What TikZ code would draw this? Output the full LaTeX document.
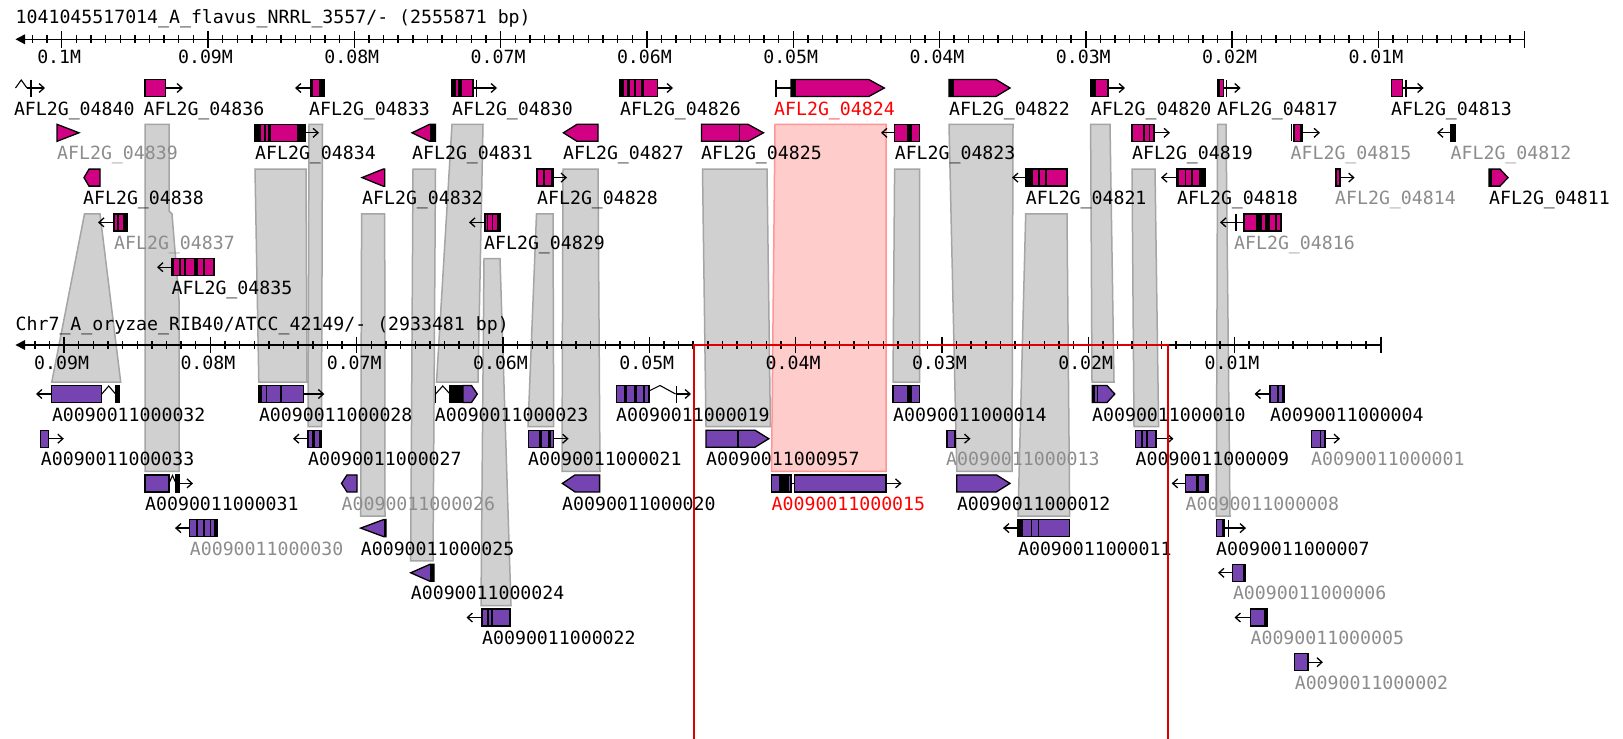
\documentclass[tikz,border=0pt]{standalone}
\usepackage{fontspec}
\setmonofont{DejaVu Sans Mono}
\usetikzlibrary{arrows.meta}
\definecolor{genemag}{RGB}{210,0,130}
\definecolor{genepur}{RGB}{118,68,176}
\definecolor{hspfill}{RGB}{208,208,208}
\definecolor{hspedge}{RGB}{165,165,165}
\definecolor{hlfill}{RGB}{255,204,204}
\definecolor{hledge}{RGB}{255,150,150}
\definecolor{selred}{RGB}{222,0,0}
\definecolor{dimtext}{RGB}{140,140,140}
\definecolor{redtext}{RGB}{255,0,0}

% gene glyph helpers (x in px, y grows downward)
\newcommand\gbox[4]{\filldraw[gline,fill=#1] (#2,{#4-8.5}) rectangle (#3,{#4+8.5});}
\newcommand\gstr[3]{\fill[black] (#1,{#3-8.5}) rectangle (#2,{#3+8.5});}
\newcommand\gpr[5]{\filldraw[gline,fill=#1] (#2,{#5-8.5}) -- (#3,{#5-8.5}) -- (#4,#5) -- (#3,{#5+8.5}) -- (#2,{#5+8.5}) -- cycle;}
\newcommand\gpl[5]{\filldraw[gline,fill=#1] (#2,#5) -- (#3,{#5-8.5}) -- (#4,{#5-8.5}) -- (#4,{#5+8.5}) -- (#3,{#5+8.5}) -- cycle;}
\newcommand\garr[3]{\draw[garrow] (#1,#3) -- (#2,#3);}
\newcommand\gcar[3]{\draw[gthin] (#1,#3) -- ({(#1+#2)/2},{#3-8}) -- (#2,#3);}
\newcommand\gbar[2]{\draw[gline] (#1,{#2-8.5}) -- (#1,{#2+8.5});}
\newcommand\glab[5]{\node[lbl,text=#5] (#1) at (#2,{#3+27}) {#4};}

\begin{document}
\begin{tikzpicture}[x=1pt,y=-1pt,
  lbl/.style={anchor=base west,inner sep=0pt,font=\ttfamily\fontsize{18.2}{20}\selectfont},
  axlbl/.style={anchor=base,inner sep=0pt,font=\ttfamily\fontsize{18.2}{20}\selectfont},
  gline/.style={draw=black,line width=1.3pt},
  gthin/.style={draw=black,line width=1.1pt},
  garrow/.style={draw=black,line width=1.3pt,-{Straight Barb[length=5pt,width=9pt,line width=1.3pt]}},
  hsp/.style={fill=hspfill,draw=hspedge,line width=1.5pt},
  hilite/.style={fill=hlfill,draw=hledge,line width=1.5pt},
  axis/.style={draw=black,line width=1.4pt},
  selbox/.style={draw=selred,line width=2pt}]

\useasboundingbox (0,0) rectangle (1623,739);
\fill[white] (0,0) rectangle (1623,739);

\def\TRa{88}\def\TRb{132.8}\def\TRc{177.6}\def\TRd{222.4}\def\TRe{267.2}
\def\BRa{394}\def\BRb{438.7}\def\BRc{483.4}\def\BRd{528.1}\def\BRe{572.8}\def\BRf{617.5}\def\BRg{662.2}

% ---------- homology blocks ----------
\filldraw[hsp] (84.5,213.9) -- (100,213.9) -- (120.7,382) -- (51.8,382) -- cycle;
\filldraw[hsp] (145,124.3) -- (169,124.3) -- (169,211) -- (172,214) -- (179,300) -- (179,471.4) -- (145,471.4) -- cycle;
\filldraw[hsp] (255,169.1) -- (306,169.1) -- (307,382) -- (258.8,382) -- cycle;
\filldraw[hsp] (309,124.3) -- (322.5,124.3) -- (321.5,426.7) -- (308,426.7) -- cycle;
\filldraw[hsp] (361.6,213.9) -- (384.7,213.9) -- (385,516.1) -- (360.7,516.1) -- cycle;
\filldraw[hsp] (413,169.1) -- (435.5,169.1) -- (433,560.8) -- (410.7,560.8) -- cycle;
\filldraw[hsp] (452,124.3) -- (483,124.3) -- (478,382) -- (436.5,382) -- cycle;
\filldraw[hsp] (484,258.7) -- (500,258.7) -- (511,605.5) -- (481,605.5) -- cycle;
\filldraw[hsp] (536.5,213.9) -- (553,213.9) -- (553.7,426.7) -- (528,426.7) -- cycle;
\filldraw[hsp] (563,169.1) -- (598,169.1) -- (600,471.4) -- (562,471.4) -- cycle;
\filldraw[hsp] (702.5,169.1) -- (767,169.1) -- (770.4,426.7) -- (706,426.7) -- cycle;
\filldraw[hsp] (894.6,169.1) -- (919.5,169.1) -- (919.5,382) -- (893,382) -- cycle;
\filldraw[hsp] (949,124.3) -- (1013,124.3) -- (1012,471.4) -- (956.8,471.4) -- cycle;
\filldraw[hsp] (1025.7,213.9) -- (1067,213.9) -- (1069.7,516.1) -- (1018,516.1) -- cycle;
\filldraw[hsp] (1090.6,124.3) -- (1110,124.3) -- (1114,382) -- (1092,382) -- cycle;
\filldraw[hsp] (1132,169.1) -- (1155,169.1) -- (1158.6,426.7) -- (1134,426.7) -- cycle;
\filldraw[hsp] (1217.6,124.3) -- (1226,124.3) -- (1230,516.1) -- (1216.3,516.1) -- cycle;
\filldraw[hilite] (775,124.3) -- (886,124.3) -- (886,471.4) -- (771.5,471.4) -- cycle;

% ---------- sequence axes ----------
\node[lbl] (toptitle) at (15.5,23.5) {1041045517014\_A\_flavus\_NRRL\_3557/- (2555871 bp)};
\draw[axis] (20,39.3) -- (1524.7,39.3);
\fill (15.5,39.3) -- (25,34.3) -- (25,44.3) -- cycle;
\foreach \k in {0,...,102} {
  \pgfmathsetmacro\xx{1524.7-14.63*\k}
  \draw[axis] (\xx,35.3) -- (\xx,43.3);
}
\foreach \k/\t in {0/,10/0.01M,20/0.02M,30/0.03M,40/0.04M,50/0.05M,60/0.06M,70/0.07M,80/0.08M,90/0.09M,100/0.1M} {
  \pgfmathsetmacro\xx{1524.7-14.63*\k}
  \draw[axis] (\xx,31) -- (\xx,47.5);
  \node[axlbl] at ({\xx-2.5},63.3) {\t};
}

\node[lbl] (bottitle) at (15.5,330) {Chr7\_A\_oryzae\_RIB40/ATCC\_42149/- (2933481 bp)};
\draw[axis] (20,345) -- (1380.8,345);
\fill (15.5,345) -- (25,340) -- (25,350) -- cycle;
\foreach \k in {0,...,92} {
  \pgfmathsetmacro\xx{1380.8-14.63*\k}
  \draw[axis] (\xx,341) -- (\xx,349);
}
\foreach \k/\t in {0/,10/0.01M,20/0.02M,30/0.03M,40/0.04M,50/0.05M,60/0.06M,70/0.07M,80/0.08M,90/0.09M} {
  \pgfmathsetmacro\xx{1380.8-14.63*\k}
  \draw[axis] (\xx,336.7) -- (\xx,353.2);
  \node[axlbl] at ({\xx-2.5},369.3) {\t};
}

% ---------- A. flavus genes ----------
% row 1
\gcar{15.5}{27}{\TRa}\garr{27}{45}{\TRa}\gbar{31}{\TRa}
\glab{t04840}{13.8}{\TRa}{AFL2G\_04840}{black}
\garr{165.6}{183}{\TRa}\gbox{genemag}{145}{165.6}{\TRa}
\glab{t04836}{143.5}{\TRa}{AFL2G\_04836}{black}
\garr{310.5}{295}{\TRa}\gbox{genemag}{310.5}{324.3}{\TRa}\gstr{310.5}{312.5}{\TRa}\gstr{318.5}{324.3}{\TRa}
\glab{t04833}{309}{\TRa}{AFL2G\_04833}{black}
\garr{473}{497}{\TRa}\gbar{476.5}{\TRa}\gbox{genemag}{452}{473}{\TRa}\gstr{452}{456}{\TRa}\gstr{458}{462}{\TRa}
\glab{t04830}{452}{\TRa}{AFL2G\_04830}{black}
\garr{657.6}{673}{\TRa}\gbox{genemag}{619.7}{657.6}{\TRa}\gstr{619.7}{623.8}{\TRa}\gstr{627.2}{630}{\TRa}\gstr{633.5}{635.9}{\TRa}\gstr{641}{643.8}{\TRa}
\glab{t04826}{620}{\TRa}{AFL2G\_04826}{black}
\gbar{776}{\TRa}\draw[gthin] (776,\TRa) -- (791,\TRa);
\gpr{genemag}{791}{868.8}{884.3}{\TRa}\gstr{791}{796}{\TRa}
\glab{t04824}{774}{\TRa}{AFL2G\_04824}{redtext}
\gpr{genemag}{949}{996}{1010}{\TRa}\gstr{949}{954}{\TRa}
\glab{t04822}{949}{\TRa}{AFL2G\_04822}{black}
\garr{1107.9}{1125}{\TRa}\gbox{genemag}{1090.6}{1107.9}{\TRa}\gstr{1090.6}{1095.8}{\TRa}
\glab{t04820}{1090.6}{\TRa}{AFL2G\_04820}{black}
\garr{1223.5}{1240.7}{\TRa}\gbar{1226.5}{\TRa}\gbox{genemag}{1217.6}{1223.5}{\TRa}\gstr{1217.6}{1219.5}{\TRa}
\glab{t04817}{1217}{\TRa}{AFL2G\_04817}{black}
\garr{1402.8}{1423.6}{\TRa}\gbar{1406}{\TRa}\gbox{genemag}{1391.8}{1402.8}{\TRa}
\glab{t04813}{1391}{\TRa}{AFL2G\_04813}{black}
% row 2
\gpr{genemag}{57}{57}{79}{\TRb}
\glab{t04839}{57}{\TRb}{AFL2G\_04839}{dimtext}
\garr{305.3}{319}{\TRb}\gbox{genemag}{255}{305.3}{\TRb}\gstr{255}{260.5}{\TRb}\gstr{264}{265.7}{\TRb}\gstr{268.4}{270.8}{\TRb}\gstr{296.7}{305.3}{\TRb}
\glab{t04834}{255}{\TRb}{AFL2G\_04834}{black}
\gpl{genemag}{412}{429.6}{435.5}{\TRb}\gstr{429.6}{435.5}{\TRb}
\glab{t04831}{412}{\TRb}{AFL2G\_04831}{black}
\gpl{genemag}{563.4}{577}{598}{\TRb}
\glab{t04827}{563}{\TRb}{AFL2G\_04827}{black}
\gpr{genemag}{701.4}{748}{763.5}{\TRb}\gstr{738.7}{740.4}{\TRb}
\glab{t04825}{701}{\TRb}{AFL2G\_04825}{black}
\garr{894.6}{881}{\TRb}\gbox{genemag}{894.6}{919.5}{\TRb}\gstr{906.8}{912}{\TRb}
\glab{t04823}{894.6}{\TRb}{AFL2G\_04823}{black}
\garr{1154.5}{1170}{\TRb}\gbox{genemag}{1132}{1154.5}{\TRb}\gstr{1143.4}{1145}{\TRb}\gstr{1148.6}{1150.3}{\TRb}\gstr{1152.7}{1154.5}{\TRb}
\glab{t04819}{1132}{\TRb}{AFL2G\_04819}{black}
\garr{1302.8}{1320}{\TRb}\gbar{1291.5}{\TRb}\gbox{genemag}{1294}{1302.8}{\TRb}\gstr{1300}{1302.8}{\TRb}
\glab{t04815}{1290.5}{\TRb}{AFL2G\_04815}{dimtext}
\garr{1451}{1437}{\TRb}\gbox{black}{1451}{1455}{\TRb}
\glab{t04812}{1450.5}{\TRb}{AFL2G\_04812}{dimtext}
% row 3
\gpl{genemag}{84}{89}{100}{\TRc}
\glab{t04838}{83}{\TRc}{AFL2G\_04838}{black}
\gpl{genemag}{362}{383}{384.7}{\TRc}
\glab{t04832}{362}{\TRc}{AFL2G\_04832}{black}
\garr{553}{567}{\TRc}\gbox{genemag}{537}{553}{\TRc}\gstr{542.7}{545}{\TRc}\gstr{550.7}{553}{\TRc}
\glab{t04828}{537}{\TRc}{AFL2G\_04828}{black}
\garr{1025.7}{1012}{\TRc}\gbox{genemag}{1025.7}{1067}{\TRc}\gstr{1025.7}{1032.6}{\TRc}\gstr{1037.8}{1039.5}{\TRc}\gstr{1045.4}{1047.1}{\TRc}
\glab{t04821}{1025.7}{\TRc}{AFL2G\_04821}{black}
\garr{1177}{1161}{\TRc}\gbox{genemag}{1177}{1205.5}{\TRc}\gstr{1177}{1178.5}{\TRc}\gstr{1184.5}{1186}{\TRc}\gstr{1191}{1193}{\TRc}\gstr{1199}{1205.5}{\TRc}
\glab{t04818}{1177}{\TRc}{AFL2G\_04818}{black}
\garr{1340}{1354.6}{\TRc}\gbox{genemag}{1335.6}{1340}{\TRc}\gstr{1335.6}{1337}{\TRc}
\glab{t04814}{1335}{\TRc}{AFL2G\_04814}{dimtext}
\gpr{genemag}{1489}{1500}{1508}{\TRc}\gstr{1489}{1492}{\TRc}
\glab{t04811}{1489}{\TRc}{AFL2G\_04811}{black}
% row 4
\garr{114}{98}{\TRd}\gbox{genemag}{114}{127.7}{\TRd}\gstr{117}{118.5}{\TRd}\gstr{122.5}{127.7}{\TRd}
\glab{t04837}{114}{\TRd}{AFL2G\_04837}{dimtext}
\garr{485}{469}{\TRd}\gbox{genemag}{485}{500}{\TRd}\gstr{486.5}{488.2}{\TRd}\gstr{491.7}{493.4}{\TRd}\gstr{496.9}{500}{\TRd}
\glab{t04829}{484}{\TRd}{AFL2G\_04829}{black}
\garr{1236}{1220}{\TRd}\gbar{1236}{\TRd}\draw[gthin] (1236,\TRd) -- (1243.3,\TRd);
\gbox{genemag}{1243.3}{1281.7}{\TRd}\gstr{1243.3}{1244.5}{\TRd}\gstr{1256}{1262}{\TRd}\gstr{1265}{1270}{\TRd}\gstr{1274.5}{1276.5}{\TRd}\gstr{1279.8}{1281.7}{\TRd}
\glab{t04816}{1234}{\TRd}{AFL2G\_04816}{dimtext}
% row 5
\garr{171.5}{157}{\TRe}\gbox{genemag}{171.5}{214.6}{\TRe}\gstr{171.5}{173.5}{\TRe}\gstr{179}{181}{\TRe}\gstr{184}{186}{\TRe}\gstr{194}{198}{\TRe}\gstr{203}{205}{\TRe}\gstr{212.5}{214.6}{\TRe}
\glab{t04835}{171.5}{\TRe}{AFL2G\_04835}{black}

% ---------- A. oryzae genes ----------
% row 1
\garr{51.8}{36}{\BRa}\gbox{genepur}{51.8}{101.8}{\BRa}\gcar{101.8}{115.6}{\BRa}\gbox{black}{115.6}{119}{\BRa}
\glab{b000032}{51.8}{\BRa}{A0090011000032}{black}
\garr{303.6}{324.3}{\BRa}\gbox{genepur}{258.8}{303.6}{\BRa}\gstr{258.8}{262.2}{\BRa}\gstr{265.7}{267.4}{\BRa}\gstr{279.5}{282.2}{\BRa}
\glab{b000028}{258.8}{\BRa}{A0090011000028}{black}
\gbar{435.5}{\BRa}\gcar{435.5}{450}{\BRa}\gbox{black}{450}{463}{\BRa}\gpr{genepur}{463}{471.5}{477.3}{\BRa}
\glab{b000023}{434.7}{\BRa}{A0090011000023}{black}
\gbox{genepur}{616.2}{649}{\BRa}\gstr{623.8}{627.2}{\BRa}\gstr{633.5}{636.9}{\BRa}\gstr{642.8}{644.5}{\BRa}
\draw[gthin] (649,{\BRa-3}) -- (660,{\BRa-8.5}) -- (675.6,\BRa);
\garr{675.6}{691}{\BRa}\gbar{676.3}{\BRa}
\glab{b000019}{616}{\BRa}{A0090011000019}{black}
\gbox{genepur}{893}{919.5}{\BRa}\gstr{906.8}{912}{\BRa}
\glab{b000014}{893}{\BRa}{A0090011000014}{black}
\gpr{genepur}{1092.3}{1107}{1114.8}{\BRa}\gstr{1092.3}{1094.5}{\BRa}\gstr{1096.5}{1098.3}{\BRa}
\glab{b000010}{1092}{\BRa}{A0090011000010}{black}
\garr{1270}{1254.5}{\BRa}\gbox{genepur}{1270}{1284}{\BRa}\gstr{1276.7}{1278.7}{\BRa}\gstr{1281.6}{1284}{\BRa}
\glab{b000004}{1270}{\BRa}{A0090011000004}{black}
% row 2
\garr{48.3}{63.8}{\BRb}\gbox{genepur}{40.7}{48.3}{\BRb}
\glab{b000033}{40.7}{\BRb}{A0090011000033}{black}
\garr{308}{293}{\BRb}\gbox{genepur}{308}{321.5}{\BRb}\gstr{312}{314.5}{\BRb}\gstr{319}{321.5}{\BRb}
\glab{b000027}{308}{\BRb}{A0090011000027}{black}
\garr{553.3}{568.6}{\BRb}\gbox{genepur}{528.3}{553.3}{\BRb}\gstr{539.3}{542.3}{\BRb}\gstr{547.7}{551}{\BRb}
\glab{b000021}{528}{\BRb}{A0090011000021}{black}
\gpr{genepur}{706}{755}{768.8}{\BRb}\gstr{737}{738.7}{\BRb}
\glab{b000957}{706}{\BRb}{A0090011000957}{black}
\garr{955}{970.5}{\BRb}\gbox{genepur}{946.4}{955}{\BRb}\gstr{946.4}{948}{\BRb}
\glab{b000013}{946}{\BRb}{A0090011000013}{dimtext}
\garr{1156}{1173.4}{\BRb}\gbox{genepur}{1135.5}{1156}{\BRb}\gstr{1140.8}{1142.5}{\BRb}\gstr{1146}{1147.7}{\BRb}
\glab{b000009}{1135.5}{\BRb}{A0090011000009}{black}
\garr{1325}{1340}{\BRb}\gbox{genepur}{1311.4}{1325}{\BRb}\gstr{1319.6}{1321.4}{\BRb}
\glab{b000001}{1311}{\BRb}{A0090011000001}{dimtext}
% row 3
\garr{176}{193}{\BRc}\gbox{genepur}{145}{169}{\BRc}\gcar{169}{176}{\BRc}\gbox{black}{176}{179}{\BRc}
\glab{b000031}{145}{\BRc}{A0090011000031}{black}
\gpl{genepur}{341.5}{347}{357}{\BRc}
\glab{b000026}{341.5}{\BRc}{A0090011000026}{dimtext}
\gpl{genepur}{562.4}{575}{599.6}{\BRc}
\glab{b000020}{562}{\BRc}{A0090011000020}{black}
\gbox{genepur}{771.5}{791}{\BRc}\gstr{779}{789.4}{\BRc}\draw[gthin] (791,\BRc) -- (794.6,\BRc);
\garr{886}{901.5}{\BRc}\gbox{genepur}{794.6}{886}{\BRc}
\glab{b000015}{771.5}{\BRc}{A0090011000015}{redtext}
\gpr{genepur}{956.8}{996.4}{1010}{\BRc}
\glab{b000012}{956.8}{\BRc}{A0090011000012}{black}
\garr{1185.5}{1171.7}{\BRc}\gbox{genepur}{1185.5}{1208}{\BRc}\gstr{1195.8}{1199.3}{\BRc}\gstr{1204.5}{1208}{\BRc}
\glab{b000008}{1185.5}{\BRc}{A0090011000008}{dimtext}
% row 4
\garr{189.7}{175}{\BRd}\gbox{genepur}{189.7}{217.4}{\BRd}\gstr{196}{197.5}{\BRd}\gstr{203}{204.5}{\BRd}\gstr{209.5}{211}{\BRd}\gstr{214}{217.4}{\BRd}
\glab{b000030}{189.7}{\BRd}{A0090011000030}{dimtext}
\gpl{genepur}{360.7}{383.5}{386}{\BRd}\gstr{383.5}{386}{\BRd}
\glab{b000025}{360.7}{\BRd}{A0090011000025}{black}
\garr{1017.9}{1003}{\BRd}\gbox{genepur}{1017.9}{1069.7}{\BRd}\gstr{1017.9}{1022.6}{\BRd}\gstr{1030.6}{1032.2}{\BRd}\gstr{1037.7}{1039.3}{\BRd}
\glab{b000011}{1017.9}{\BRd}{A0090011000011}{black}
\garr{1224}{1246}{\BRd}\gbar{1228.5}{\BRd}\gbox{genepur}{1216.3}{1224}{\BRd}\gstr{1221.5}{1224}{\BRd}
\glab{b000007}{1216}{\BRd}{A0090011000007}{black}
% row 5
\gpl{genepur}{410.7}{430}{434}{\BRe}\gstr{430}{434}{\BRe}
\glab{b000024}{410.7}{\BRe}{A0090011000024}{black}
\garr{1232.8}{1218}{\BRe}\gbox{genepur}{1232.8}{1245.7}{\BRe}\gstr{1242.5}{1245.7}{\BRe}
\glab{b000006}{1232.8}{\BRe}{A0090011000006}{dimtext}
% row 6
\garr{482}{466.5}{\BRf}\gbox{genepur}{482}{510}{\BRf}\gstr{486.5}{488.5}{\BRf}\gstr{490.6}{492.5}{\BRf}
\glab{b000022}{482}{\BRf}{A0090011000022}{black}
\garr{1250.4}{1234.5}{\BRf}\gbox{genepur}{1250.4}{1267}{\BRf}\gstr{1264}{1267}{\BRf}
\glab{b000005}{1250.4}{\BRf}{A0090011000005}{dimtext}
% row 7
\garr{1308}{1322.9}{\BRg}\gbox{genepur}{1294.6}{1308}{\BRg}
\glab{b000002}{1294.6}{\BRg}{A0090011000002}{dimtext}

% ---------- selected window ----------
\draw[selbox] (694,739) -- (694,345) -- (1167.6,345) -- (1167.6,739);

\end{tikzpicture}
\end{document}
